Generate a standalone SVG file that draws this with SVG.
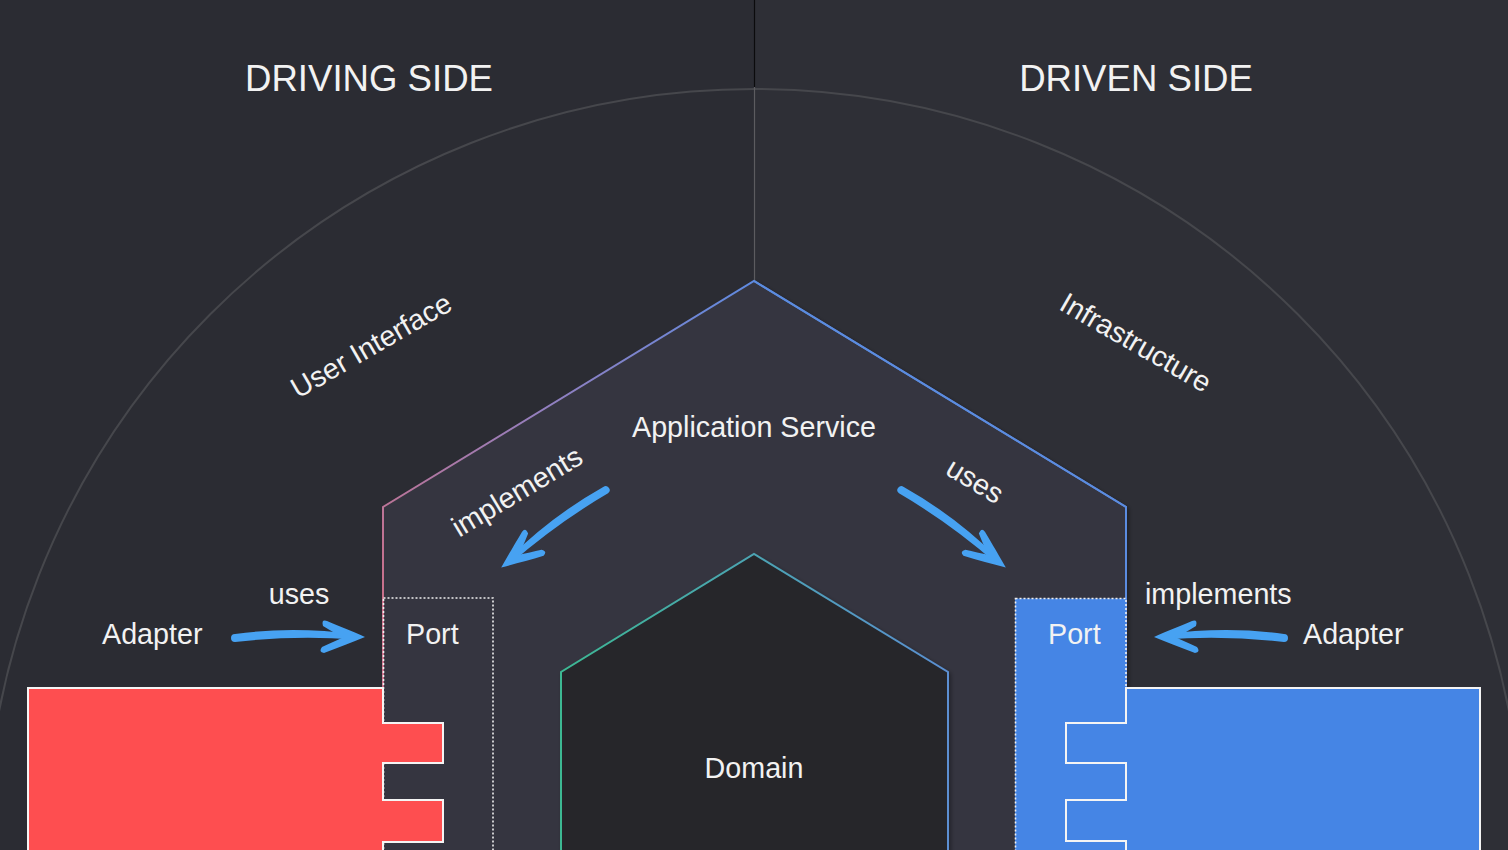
<svg xmlns="http://www.w3.org/2000/svg" width="1508" height="850" viewBox="0 0 1508 850">
  <defs>
    <style>
      .lbl { font-family: "Liberation Sans", Arial, sans-serif; fill: #f2f2f2; font-size: 28.7px; }
      .side { font-family: "Liberation Sans", Arial, sans-serif; fill: #f2f2f2; font-size: 36.6px; text-anchor: middle; }
      .mid { text-anchor: middle; }
      .outline { stroke: #f4f4f4; stroke-width: 2; stroke-linejoin: miter; }
      .port { fill: none; stroke: #f0f0f0; stroke-width: 1.6; stroke-dasharray: 2 2; }
      .arrow { fill: #47a2f2; }
    </style>
    <linearGradient id="appGrad" gradientUnits="userSpaceOnUse" x1="383" y1="600" x2="754" y2="281">
      <stop offset="0" stop-color="#c9708a"/>
      <stop offset="0.5" stop-color="#937fbf"/>
      <stop offset="1" stop-color="#5f8ae0"/>
    </linearGradient>
    <linearGradient id="domGrad" gradientUnits="userSpaceOnUse" x1="561" y1="0" x2="948" y2="0">
      <stop offset="0" stop-color="#3db893"/>
      <stop offset="1" stop-color="#5b8fd2"/>
    </linearGradient>
    <filter id="shadow" x="-10%" y="-10%" width="120%" height="120%">
      <feDropShadow dx="2" dy="2" stdDeviation="2" flood-color="#000" flood-opacity="0.35"/>
    </filter>
    <g id="arrowShape">
      <path d="M -129,-3 Q -70,-11 -8,-2.5 L -8,2.5 Q -70,-2 -129,5 A 4 4 0 0 1 -129,-3 Z"/>
      <path d="M 1,0 C -10,-5 -25,-11 -37,-16 Q -43,-18 -41,-11 C -33,-6 -26,-2 -20,0 C -27,3 -35,7 -42,10 Q -46,15 -40,16 C -26,11 -12,5 1,0 Z"/>
    </g>
  </defs>

  <!-- background -->
  <rect x="0" y="0" width="754" height="850" fill="#2b2c33"/>
  <rect x="754" y="0" width="754" height="850" fill="#2e2f36"/>

  <g id="layer-circle">
    <circle cx="754" cy="858" r="769" fill="none" stroke="#46474c" stroke-width="2"/>
    <line x1="754.5" y1="0" x2="754.5" y2="87" stroke="#0b0b0d" stroke-width="1.2"/>
    <line x1="754.5" y1="87" x2="754.5" y2="281" stroke="#5c5c60" stroke-width="1.2"/>
  </g>

  <g id="side-titles">
    <text class="side" x="369" y="91">DRIVING SIDE</text>
    <text class="side" x="1136" y="91">DRIVEN SIDE</text>
  </g>

  <g id="ring-labels">
    <text class="lbl mid" transform="translate(376,354) rotate(-30)">User Interface</text>
    <text class="lbl mid" transform="translate(1131,351) rotate(30)">Infrastructure</text>
  </g>

  <g id="application-service">
    <path d="M 383,860 V 507 L 754,281 L 1126,507 V 860" fill="#36363f" stroke="url(#appGrad)" stroke-width="2" filter="url(#shadow)"/>
    <path d="M 754,281 L 1126,507 V 600" fill="none" stroke="#5b8ce0" stroke-width="2"/>
    <text class="lbl mid" x="754" y="437">Application Service</text>
    <text class="lbl mid" transform="translate(522,500) rotate(-31)">implements</text>
    <text class="lbl mid" transform="translate(970,489) rotate(31)">uses</text>
  </g>

  <g id="domain">
    <path d="M 561,860 V 672 L 754,554 L 948,672 V 860" fill="#25262b" stroke="url(#domGrad)" stroke-width="2" filter="url(#shadow)"/>
    <text class="lbl mid" x="754" y="778">Domain</text>
  </g>

  <g id="driving-port">
    <rect class="port" x="383.5" y="598" width="109.5" height="270"/>
    <text class="lbl" x="406" y="644">Port</text>
  </g>

  <g id="driving-adapter">
    <path class="outline" fill="#fe4e50" d="M 28,688 H 383 V 723 H 443 V 763 H 383 V 800 H 443 V 842 H 383 V 870 H 28 Z"/>
    <text class="lbl" x="102" y="644">Adapter</text>
    <text class="lbl mid" x="299" y="604">uses</text>
  </g>

  <g id="driven-port">
    <rect x="1015" y="598.5" width="111" height="270" fill="#4585e5"/>
    <rect class="port" x="1015.5" y="598.5" width="110.5" height="270"/>
    <text class="lbl" x="1048" y="644">Port</text>
  </g>

  <g id="driven-adapter">
    <path class="outline" fill="#4585e5" d="M 1126,688 H 1480 V 870 H 1126 V 841 H 1066 V 800 H 1126 V 763 H 1066 V 723 H 1126 Z"/>
    <text class="lbl" x="1303" y="644">Adapter</text>
    <text class="lbl" x="1145" y="604">implements</text>
  </g>

  <g id="connectors" class="arrow">
    <use href="#arrowShape" transform="translate(364,637)"/>
    <use href="#arrowShape" transform="translate(1155,637) scale(-1,1)"/>
    <use href="#arrowShape" transform="translate(502,567) rotate(143) scale(1,-1)"/>
    <use href="#arrowShape" transform="translate(1005,567) rotate(37)"/>
  </g>
</svg>
